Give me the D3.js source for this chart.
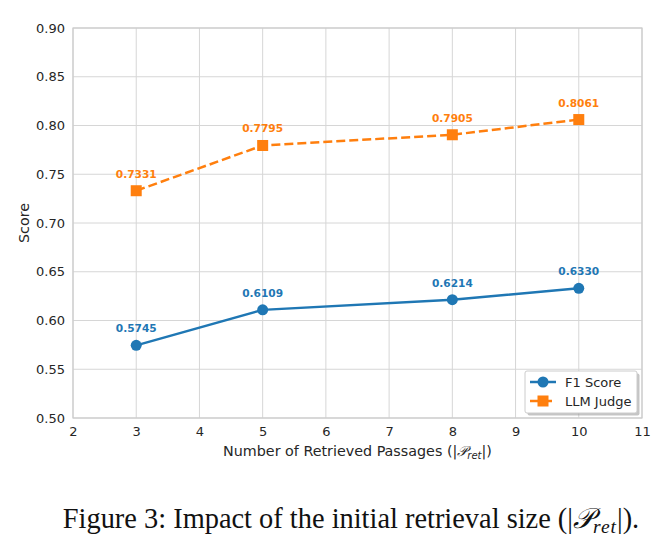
<!DOCTYPE html>
<html>
<head>
<meta charset="utf-8">
<script src="https://cdn.jsdelivr.net/npm/d3@7"></script>
<style>
  body { margin: 0; background: #fff; }
  svg { display: block; }
</style>
</head>
<body>
<div id="chart"></div>
<script>
// data
var passages = [3, 5, 8, 10];
var f1Score = [0.5745, 0.6109, 0.6214, 0.6330];
var llmJudge = [0.7331, 0.7795, 0.7905, 0.8061];
var xTicks = [2, 3, 4, 5, 6, 7, 8, 9, 10, 11];
var yTicks = [0.50, 0.55, 0.60, 0.65, 0.70, 0.75, 0.80, 0.85, 0.90];

var W = 666, H = 552;
var pLeft = 73, pRight = 642, pTop = 28, pBottom = 418;
var blue = "#1f77b4", orange = "#ff7f0e";
var textCol = "#262626", gridCol = "#d6d6d6";

var svg = d3.select("#chart").append("svg")
    .attr("width", W)
    .attr("height", H);

var x = d3.scaleLinear().domain([2, 11]).range([pLeft, pRight]);
var y = d3.scaleLinear().domain([0.5, 0.9]).range([pBottom, pTop]);

// grid
svg.append("g").selectAll("line")
    .data(xTicks).enter().append("line")
    .attr("x1", function (d) { return x(d); })
    .attr("x2", function (d) { return x(d); })
    .attr("y1", pTop).attr("y2", pBottom)
    .attr("stroke", gridCol).attr("stroke-width", 1);
svg.append("g").selectAll("line")
    .data(yTicks).enter().append("line")
    .attr("y1", function (d) { return y(d); })
    .attr("y2", function (d) { return y(d); })
    .attr("x1", pLeft).attr("x2", pRight)
    .attr("stroke", gridCol).attr("stroke-width", 1);

// frame
svg.append("rect")
    .attr("x", pLeft).attr("y", pTop)
    .attr("width", pRight - pLeft).attr("height", pBottom - pTop)
    .attr("fill", "none").attr("stroke", "#cccccc").attr("stroke-width", 1.2);

// axes (labels only, no tick marks)
var xAxis = svg.append("g")
    .attr("transform", "translate(0," + pBottom + ")")
    .call(d3.axisBottom(x).tickValues(xTicks).tickSize(0).tickPadding(9).tickFormat(d3.format("d")));
var yAxis = svg.append("g")
    .attr("transform", "translate(" + pLeft + ",0)")
    .call(d3.axisLeft(y).tickValues(yTicks).tickSize(0).tickPadding(8).tickFormat(d3.format(".2f")));
[xAxis, yAxis].forEach(function (a) {
  a.select(".domain").remove();
  a.selectAll("text")
    .attr("fill", textCol)
    .style("font-family", "DejaVu Sans")
    .style("font-size", "13px");
});

// axis titles
var xl = svg.append("text")
    .attr("x", (pLeft + pRight) / 2).attr("y", 456)
    .attr("text-anchor", "middle")
    .attr("fill", textCol)
    .style("font-family", "DejaVu Sans")
    .style("font-size", "14.3px");
xl.append("tspan").text("Number of Retrieved Passages (|");
xl.append("tspan").style("font-style", "italic").style("font-family", "DejaVu Serif").text("\u{1D4AB}");
xl.append("tspan").attr("dy", 3).style("font-style", "italic").style("font-size", "10px").text("ret");
xl.append("tspan").attr("dy", -3).text("|)");

svg.append("text")
    .attr("transform", "translate(29," + ((pTop + pBottom) / 2) + ") rotate(-90)")
    .attr("text-anchor", "middle")
    .attr("fill", textCol)
    .style("font-family", "DejaVu Sans")
    .style("font-size", "14.3px")
    .text("Score");

var series = [
  { name: "F1 Score", values: f1Score, color: blue, dash: null, marker: "circle" },
  { name: "LLM Judge", values: llmJudge, color: orange, dash: "9,4", marker: "square" }
];

var line = d3.line()
    .x(function (d) { return x(d[0]); })
    .y(function (d) { return y(d[1]); });

series.forEach(function (s) {
  var pts = d3.zip(passages, s.values);
  svg.append("path")
      .datum(pts)
      .attr("d", line)
      .attr("fill", "none")
      .attr("stroke", s.color)
      .attr("stroke-width", 2.5)
      .attr("stroke-dasharray", s.dash);
  if (s.marker == "circle") {
    svg.append("g").selectAll("circle")
        .data(pts).enter().append("circle")
        .attr("cx", function (d) { return x(d[0]); })
        .attr("cy", function (d) { return y(d[1]); })
        .attr("r", 5.5)
        .attr("fill", s.color);
  } else {
    svg.append("g").selectAll("rect")
        .data(pts).enter().append("rect")
        .attr("x", function (d) { return x(d[0]) - 5.5; })
        .attr("y", function (d) { return y(d[1]) - 5.5; })
        .attr("width", 11).attr("height", 11)
        .attr("fill", s.color);
  }
  svg.append("g").selectAll("text")
      .data(pts).enter().append("text")
      .attr("x", function (d) { return x(d[0]); })
      .attr("y", function (d) { return y(d[1]) - 13; })
      .attr("text-anchor", "middle")
      .attr("fill", s.color)
      .style("font-family", "DejaVu Sans")
      .style("font-weight", "bold")
      .style("font-size", "10.6px")
      .text(function (d) { return d3.format(".4f")(d[1]); });
});

// legend with shadow
var lg = svg.append("g").attr("transform", "translate(525,371)");
lg.append("rect")
    .attr("x", 2.5).attr("y", 2.5)
    .attr("width", 112).attr("height", 42)
    .attr("rx", 2)
    .attr("fill", "#8c8c8c").attr("opacity", 0.5);
lg.append("rect")
    .attr("width", 112).attr("height", 42)
    .attr("rx", 2)
    .attr("fill", "#fff").attr("stroke", "#cccccc").attr("stroke-width", 1);
series.forEach(function (s, i) {
  var yy = 11 + i * 19;
  lg.append("line")
      .attr("x1", 5).attr("x2", 31)
      .attr("y1", yy).attr("y2", yy)
      .attr("stroke", s.color).attr("stroke-width", 2.5)
      .attr("stroke-dasharray", s.dash);
  if (s.marker == "circle") {
    lg.append("circle").attr("cx", 18).attr("cy", yy).attr("r", 5.5).attr("fill", s.color);
  } else {
    lg.append("rect").attr("x", 12.5).attr("y", yy - 5.5).attr("width", 11).attr("height", 11).attr("fill", s.color);
  }
  lg.append("text")
      .attr("x", 40).attr("y", yy + 4.5)
      .attr("fill", textCol)
      .style("font-family", "DejaVu Sans")
      .style("font-size", "13px")
      .text(s.name);
});

// caption
var cap = svg.append("text")
    .attr("x", 351).attr("y", 528)
    .attr("text-anchor", "middle")
    .attr("fill", "#111")
    .style("font-family", "Liberation Serif")
    .style("font-size", "28.4px");
cap.append("tspan").text("Figure 3: Impact of the initial retrieval size (|");
cap.append("tspan").style("font-style", "italic").text("\u{1D4AB}");
cap.append("tspan").attr("dy", 5).style("font-style", "italic").style("font-size", "19.5px").attr("letter-spacing", 1).text("ret");
cap.append("tspan").attr("dy", -5).text("|).");
</script>
</body>
</html>
